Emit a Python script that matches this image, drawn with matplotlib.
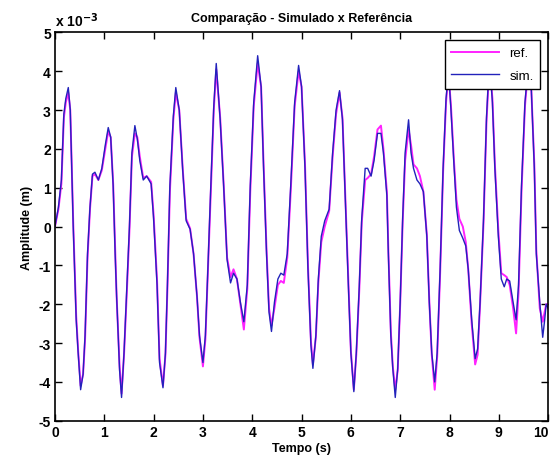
import matplotlib
matplotlib.use('Agg')
import matplotlib.pyplot as plt
import matplotlib.transforms as mtransforms

# time axis (s) and displacement (x 1e-3 m)
t = [0.0, 0.07, 0.13, 0.18, 0.22, 0.27, 0.31, 0.37, 0.43, 0.47, 0.52, 0.57, 0.61, 0.66,
     0.71, 0.76, 0.81, 0.88, 0.95, 1.02, 1.08, 1.13, 1.18, 1.22, 1.25, 1.31, 1.35, 1.40,
     1.46, 1.51, 1.56, 1.62, 1.67, 1.72, 1.79, 1.86, 1.95, 2.0, 2.07, 2.12, 2.19, 2.24,
     2.28, 2.33, 2.40, 2.45, 2.52, 2.59, 2.66, 2.74, 2.81, 2.88, 2.93, 3.0, 3.05, 3.10,
     3.16, 3.22, 3.27, 3.35, 3.42, 3.49, 3.56, 3.62, 3.69, 3.76, 3.83, 3.90, 3.96, 4.03,
     4.11, 4.18, 4.23, 4.29, 4.34, 4.39, 4.45, 4.52, 4.58, 4.64, 4.71, 4.78, 4.86, 4.94,
     5.0, 5.07, 5.13, 5.19, 5.23, 5.29, 5.34, 5.40, 5.47, 5.56, 5.63, 5.70, 5.77, 5.83,
     5.89, 5.95, 6.0, 6.06, 6.11, 6.17, 6.22, 6.29, 6.34, 6.41, 6.47, 6.54, 6.61, 6.66,
     6.73, 6.76, 6.81, 6.85, 6.90, 6.95, 7.0, 7.05, 7.10, 7.17, 7.22, 7.27, 7.34, 7.40,
     7.47, 7.54, 7.59, 7.64, 7.70, 7.75, 7.81, 7.87, 7.93, 7.98, 8.03, 8.09, 8.14, 8.20,
     8.27, 8.33, 8.38, 8.45, 8.52, 8.57, 8.62, 8.69, 8.75, 8.81, 8.87, 8.92, 8.99, 9.05,
     9.11, 9.16, 9.22, 9.29, 9.35, 9.40, 9.46, 9.53, 9.60, 9.66, 9.72, 9.76, 9.83, 9.89,
     9.93, 9.96, 10.0]

sim = [0.0, 0.5, 1.2, 2.9, 3.3, 3.58, 3.0, 0.0, -2.4, -3.25, -4.2, -3.8, -2.8, -0.7,
       0.5, 1.35, 1.4, 1.2, 1.5, 2.1, 2.55, 2.3, 1.05, -0.7, -1.8, -3.7, -4.4, -3.25,
       -1.5, 0.0, 1.9, 2.6, 2.25, 1.7, 1.2, 1.3, 1.1, 0.2, -1.5, -3.5, -4.15, -3.25,
       -1.5, 1.05, 2.85, 3.58, 3.0, 1.45, 0.15, -0.07, -0.7, -1.8, -2.8, -3.5, -2.8, -1.1,
       1.05, 3.1, 4.2, 2.75, 1.05, -0.85, -1.45, -1.2, -1.35, -1.95, -2.45, -1.5, 1.05, 3.2,
       4.4, 3.6, 1.5, -0.7, -2.2, -2.7, -1.95, -1.35, -1.2, -1.25, -0.7, 1.05, 3.2, 4.15,
       3.6, 1.5, -1.1, -3.05, -3.65, -2.8, -1.35, -0.25, 0.15, 0.45, 1.9, 3.0, 3.5, 2.75,
       0.6, -1.55, -3.25, -4.25, -3.25, -1.55, 0.2, 1.5, 1.5, 1.3, 1.7, 2.4, 2.4, 1.9,
       0.8, -0.7, -2.8, -3.65, -4.4, -3.65, -1.95, 0.2, 1.9, 2.75, 1.9, 1.5, 1.2, 1.1,
       0.9, -0.25, -1.95, -3.25, -4.0, -3.25, -1.1, 1.5, 3.3, 4.0, 3.0, 1.6, 0.5, -0.1,
       -0.3, -0.5, -1.1, -2.4, -3.4, -3.15, -1.95, 0.2, 2.8, 4.3, 3.2, 1.5, -0.25, -1.35,
       -1.55, -1.35, -1.4, -1.95, -2.4, -1.5, 1.05, 3.2, 4.2, 3.5, 1.5, -0.7, -1.95, -2.85,
       -2.4, -2.0, -2.1]

ref = [0.0, 0.45, 1.1, 2.8, 3.2, 3.45, 3.0, 0.1, -2.3, -3.2, -4.1, -3.8, -2.9, -0.8,
       0.45, 1.3, 1.35, 1.2, 1.45, 2.0, 2.45, 2.3, 1.1, -0.6, -1.8, -3.6, -4.3, -3.3,
       -1.6, -0.1, 1.8, 2.4, 2.3, 1.8, 1.25, 1.3, 1.15, 0.3, -1.4, -3.4, -4.1, -3.3,
       -1.6, 0.9, 2.75, 3.45, 3.0, 1.5, 0.2, -0.05, -0.7, -1.8, -2.85, -3.6, -2.9, -1.2,
       0.9, 3.0, 4.05, 2.8, 1.1, -0.8, -1.3, -1.1, -1.35, -2.0, -2.65, -1.6, 0.9, 3.1,
       4.2, 3.6, 1.6, -0.6, -2.1, -2.55, -2.1, -1.5, -1.4, -1.45, -0.8, 0.9, 3.1, 4.0,
       3.6, 1.6, -1.0, -2.95, -3.55, -2.85, -1.45, -0.4, 0.0, 0.4, 1.8, 2.9, 3.45, 2.8,
       0.7, -1.45, -3.2, -4.2, -3.3, -1.65, 0.1, 1.2, 1.25, 1.35, 1.8, 2.5, 2.6, 2.0,
       0.9, -0.6, -2.7, -3.6, -4.2, -3.7, -2.0, 0.1, 1.7, 2.5, 2.1, 1.6, 1.5, 1.3,
       0.9, -0.2, -1.9, -3.3, -4.2, -3.35, -1.2, 1.4, 3.2, 3.95, 3.1, 1.7, 0.7, 0.2,
       0.0, -0.4, -1.1, -2.5, -3.55, -3.3, -2.0, 0.1, 2.7, 4.2, 3.3, 1.6, -0.1, -1.2,
       -1.25, -1.3, -1.5, -2.1, -2.75, -1.7, 0.9, 3.1, 4.15, 3.5, 1.6, -0.6, -2.1, -2.45,
       -2.2, -2.0, -2.0]

plt.rcParams['font.family'] = ['Liberation Sans', 'DejaVu Sans']
plt.rcParams['axes.unicode_minus'] = False

fig = plt.figure(figsize=(5.52, 4.64), dpi=100)
ax = fig.add_axes([0.0996, 0.091, 0.8934, 0.837])

ax.plot(t, ref, color='#ff22ff', linewidth=1.4, label='ref.')
ax.plot(t, sim, color='#2222bb', linewidth=1.0, label='sim.')

ax.set_xlim(0, 10)
ax.set_ylim(-5, 5)
ax.set_xticks(range(0, 11))
ax.set_yticks(range(-5, 6))
ax.tick_params(direction='in', top=True, right=True, length=5, width=1,
               labelsize=10, pad=3)
for lab in ax.get_xticklabels() + ax.get_yticklabels():
    lab.set_fontweight('bold')
# last x label sits on the figure edge, nudge it in a little
last = ax.get_xticklabels()[-1]
last.set_transform(last.get_transform() +
                   mtransforms.ScaledTranslation(-5 / 72, 0, fig.dpi_scale_trans))
for sp in ax.spines.values():
    sp.set_linewidth(1.2)

ax.set_title('Comparação - Simulado x Referência', fontsize=9, fontweight='bold', pad=8)
ax.set_xlabel('Tempo (s)', fontsize=9, fontweight='bold', labelpad=2)
ax.set_ylabel('Amplitude (m)', fontsize=9, fontweight='bold', labelpad=4)
ax.text(0.0, 1.01, r'x 10$^{\mathbf{-3}}$', transform=ax.transAxes,
        fontsize=10, fontweight='bold', ha='left', va='bottom')

leg = ax.legend(loc='upper right', fontsize=9.5, fancybox=False, framealpha=1,
                edgecolor='black', handlelength=3.6, labelspacing=0.8,
                borderpad=0.5, borderaxespad=0.6)
leg.get_frame().set_linewidth(1.0)

fig.savefig('out.png', dpi=100)
